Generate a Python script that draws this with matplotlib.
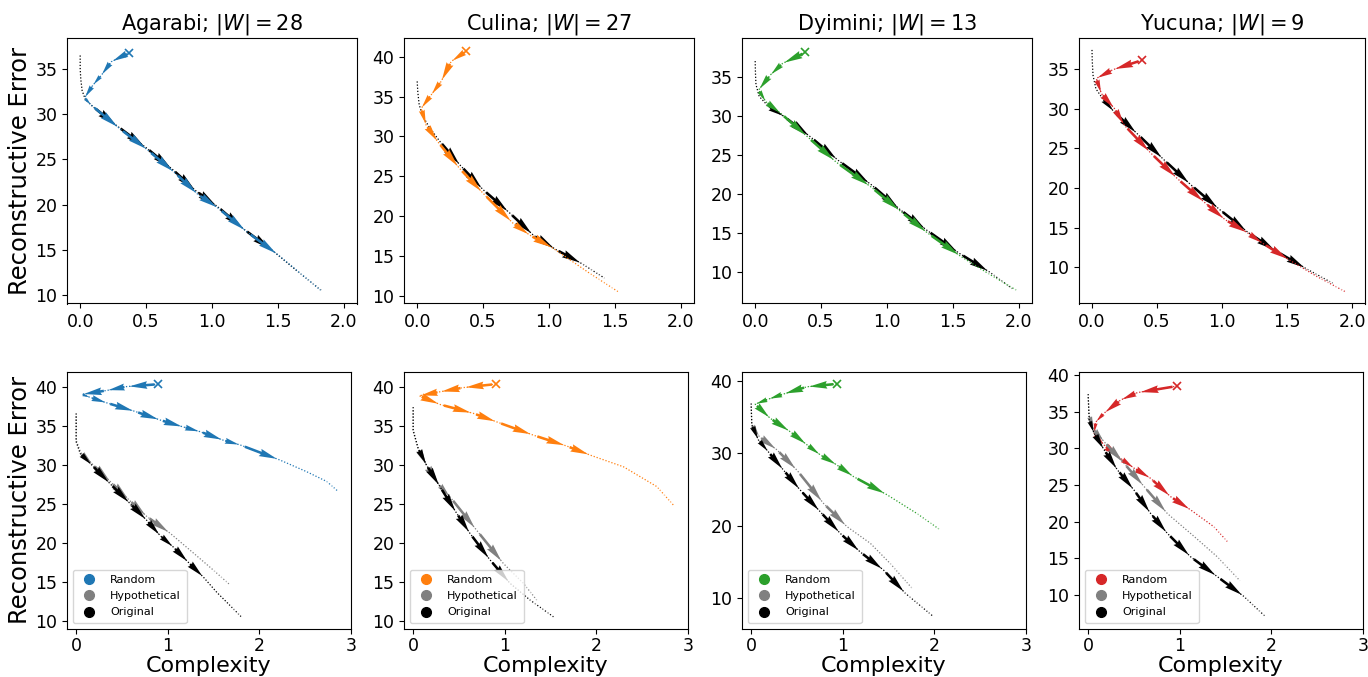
import numpy as np
import matplotlib
matplotlib.use("Agg")
import matplotlib.pyplot as plt
from matplotlib.lines import Line2D

# ---------------- data ----------------
languages = ["Agarabi", "Culina", "Dyimini", "Yucuna"]
lexicon_sizes = [28, 27, 13, 9]
colors = ["#1f77b4", "#ff7f0e", "#2ca02c", "#d62728"]
legend_labels = ["Random", "Hypothetical", "Original"]
top_xticks = [0.0, 0.5, 1.0, 1.5, 2.0]
bottom_xticks = [0, 1, 2, 3]

# top row: random (coloured) and original (black) trajectories
agarabi_top_rand_x = [0.37, 0.236, 0.16, 0.096, 0.033, 0.084, 0.30, 0.515, 0.72, 0.895, 1.048, 1.264, 1.505, 1.67, 1.835]
agarabi_top_rand_y = [36.8, 35.8, 34.3, 33.2, 31.8, 31.0, 28.4, 26.0, 23.5, 21.1, 19.6, 17.0, 14.4, 12.4, 10.4]
agarabi_top_orig_x = [0.0, 0.0, 0.005, 0.015, 0.04, 0.10, 0.28, 0.50, 0.70, 0.88, 1.04, 1.24, 1.46, 1.65, 1.83]
agarabi_top_orig_y = [36.5, 35.0, 33.8, 32.6, 31.6, 30.8, 28.7, 26.3, 23.9, 21.5, 19.8, 17.3, 14.9, 12.6, 10.5]

culina_top_rand_x = [0.372, 0.258, 0.182, 0.106, 0.03, 0.068, 0.157, 0.32, 0.50, 0.726, 0.853, 1.03, 1.308, 1.523]
culina_top_rand_y = [40.7, 39.4, 36.9, 35.2, 33.5, 31.4, 29.3, 26.0, 22.85, 19.1, 17.6, 15.95, 12.8, 10.5]
culina_top_orig_x = [0.0, 0.005, 0.015, 0.04, 0.09, 0.17, 0.33, 0.50, 0.70, 0.88, 1.05, 1.25, 1.42]
culina_top_orig_y = [36.9, 35.5, 34.0, 32.6, 31.2, 29.4, 26.3, 23.3, 20.4, 17.6, 15.8, 14.0, 12.2]

dyimini_top_rand_x = [0.38, 0.208, 0.114, 0.026, 0.081, 0.195, 0.398, 0.613, 0.879, 1.106, 1.309, 1.562, 1.765, 1.987]
dyimini_top_rand_y = [38.1, 36.7, 35.2, 33.3, 31.8, 30.3, 27.3, 24.1, 20.9, 17.75, 15.0, 12.0, 9.87, 7.65]
dyimini_top_orig_x = [0.0, 0.002, 0.006, 0.03, 0.10, 0.22, 0.42, 0.63, 0.88, 1.10, 1.30, 1.55, 1.78, 1.95]
dyimini_top_orig_y = [37.0, 35.5, 34.0, 32.5, 31.2, 29.9, 27.3, 24.3, 21.2, 18.0, 15.4, 12.4, 10.0, 7.9]

yucuna_top_rand_x = [0.384, 0.16, 0.033, 0.072, 0.173, 0.249, 0.452, 0.655, 0.871, 1.024, 1.20, 1.315, 1.519, 1.734, 1.95]
yucuna_top_rand_y = [36.1, 34.9, 33.8, 31.9, 30.0, 27.9, 24.4, 21.2, 18.1, 16.0, 14.3, 13.0, 10.9, 8.8, 6.9]
yucuna_top_orig_x = [0.0, 0.002, 0.008, 0.03, 0.08, 0.17, 0.35, 0.55, 0.76, 0.98, 1.20, 1.42, 1.65, 1.85]
yucuna_top_orig_y = [37.4, 36.0, 34.2, 32.5, 31.3, 29.6, 26.8, 23.6, 20.4, 17.3, 14.4, 12.0, 9.8, 8.0]

# bottom row: random, hypothetical (grey) and original (black)
agarabi_bot_rand_x = [0.897, 0.553, 0.335, 0.062, 0.153, 0.335, 0.644, 0.916, 1.171, 1.353, 1.607, 1.789, 2.225, 2.517, 2.735, 2.862]
agarabi_bot_rand_y = [40.4, 40.1, 39.6, 39.1, 38.7, 38.0, 36.9, 35.8, 34.9, 34.3, 33.2, 32.6, 30.65, 29.15, 27.9, 26.6]
agarabi_bot_hyp_x = [0.0, 0.0, 0.05, 0.18, 0.38, 0.58, 0.771, 1.025, 1.28, 1.498, 1.68]
agarabi_bot_hyp_y = [36.3, 33.2, 31.6, 30.1, 27.8, 25.5, 23.4, 21.25, 18.7, 16.5, 14.6]
agarabi_bot_orig_x = [0.0, 0.0, 0.044, 0.171, 0.371, 0.589, 0.771, 0.916, 1.062, 1.225, 1.389, 1.535, 1.68, 1.807]
agarabi_bot_orig_y = [36.65, 33.0, 31.5, 30.0, 27.6, 25.05, 22.9, 20.95, 19.45, 17.5, 15.6, 13.65, 11.95, 10.45]

culina_bot_rand_x = [0.904, 0.547, 0.292, 0.066, 0.292, 0.656, 0.912, 1.312, 1.677, 1.932, 2.296, 2.66, 2.843]
culina_bot_rand_y = [40.35, 39.9, 39.36, 38.85, 37.74, 36.6, 35.5, 33.8, 32.4, 31.24, 29.74, 27.2, 24.8]
culina_bot_hyp_x = [0.0, 0.0, 0.055, 0.146, 0.28, 0.401, 0.693, 0.984, 1.203, 1.349]
culina_bot_hyp_y = [37.0, 34.3, 32.0, 29.9, 27.5, 25.9, 21.6, 17.35, 14.8, 12.65]
culina_bot_orig_x = [0.0, 0.0, 0.055, 0.146, 0.292, 0.474, 0.62, 0.839, 1.057, 1.276, 1.531]
culina_bot_orig_y = [37.4, 34.45, 32.1, 29.96, 27.2, 23.8, 21.2, 17.8, 14.8, 12.65, 10.5]

dyimini_bot_rand_x = [0.936, 0.608, 0.353, 0.189, 0.044, 0.208, 0.426, 0.608, 0.754, 0.936, 1.117, 1.482, 1.81, 2.057]
dyimini_bot_rand_y = [39.6, 39.2, 38.2, 37.5, 36.8, 34.85, 33.0, 31.2, 29.8, 28.4, 26.8, 24.3, 21.7, 19.5]
dyimini_bot_hyp_x = [0.0, 0.007, 0.09, 0.281, 0.499, 0.79, 1.045, 1.30, 1.518, 1.755]
dyimini_bot_hyp_y = [36.5, 34.0, 32.3, 30.5, 27.7, 23.1, 19.9, 17.6, 14.8, 11.4]
dyimini_bot_orig_x = [0.0, 0.007, 0.08, 0.189, 0.353, 0.535, 0.754, 0.972, 1.19, 1.445, 1.682, 1.991]
dyimini_bot_orig_y = [36.9, 33.9, 31.85, 30.2, 27.7, 24.95, 21.95, 18.97, 16.4, 13.9, 10.7, 7.46]

yucuna_bot_rand_x = [0.974, 0.538, 0.356, 0.174, 0.084, 0.065, 0.174, 0.356, 0.501, 0.683, 0.901, 1.119, 1.373, 1.518]
yucuna_bot_rand_y = [38.5, 37.6, 36.6, 34.8, 33.6, 32.05, 30.45, 28.6, 27.3, 25.9, 23.4, 21.6, 19.3, 17.3]
yucuna_bot_hyp_x = [0.0, 0.01, 0.06, 0.174, 0.392, 0.61, 0.865, 1.155, 1.41, 1.656]
yucuna_bot_hyp_y = [37.0, 34.5, 32.6, 30.9, 27.95, 24.8, 21.1, 18.0, 15.2, 11.95]
yucuna_bot_orig_x = [0.0, 0.011, 0.065, 0.174, 0.32, 0.501, 0.683, 0.865, 1.119, 1.41, 1.70, 1.936]
yucuna_bot_orig_y = [37.4, 33.9, 32.05, 29.8, 27.05, 24.3, 21.1, 18.4, 15.2, 12.5, 9.8, 7.04]

# ---------------- layout / style ----------------
W, H = 1368, 677
fig = plt.figure(figsize=(W / 100, H / 100), dpi=100)

lefts = [67, 404, 742, 1079]
top_widths = [290, 290, 290, 286]
bot_width = 284
top_y0, top_y1 = 38, 303.5
bot_y0, bot_y1 = 372, 628.5

top_ylims = [(9.06, 38.43), (9.0, 42.35), (6.0, 39.95), (5.43, 38.9)]
bot_ylims = [(9.0, 41.97), (9.0, 41.9), (5.83, 41.24), (5.43, 40.41)]

# arrow segment ranges (first, last) per trajectory
top_arrows = [((0, 11), (5, 11)), ((0, 10), (5, 10)), ((0, 10), (4, 11)), ((0, 11), (4, 11))]
bot_arrows = [((0, 11), (2, 6), (2, 9)), ((0, 8), (2, 6), (2, 7)),
              ((0, 10), (1, 5), (1, 9)), ((0, 10), (1, 5), (1, 9))]

top_data = [
    (agarabi_top_rand_x, agarabi_top_rand_y, agarabi_top_orig_x, agarabi_top_orig_y),
    (culina_top_rand_x, culina_top_rand_y, culina_top_orig_x, culina_top_orig_y),
    (dyimini_top_rand_x, dyimini_top_rand_y, dyimini_top_orig_x, dyimini_top_orig_y),
    (yucuna_top_rand_x, yucuna_top_rand_y, yucuna_top_orig_x, yucuna_top_orig_y),
]
bot_data = [
    (agarabi_bot_rand_x, agarabi_bot_rand_y, agarabi_bot_hyp_x, agarabi_bot_hyp_y, agarabi_bot_orig_x, agarabi_bot_orig_y),
    (culina_bot_rand_x, culina_bot_rand_y, culina_bot_hyp_x, culina_bot_hyp_y, culina_bot_orig_x, culina_bot_orig_y),
    (dyimini_bot_rand_x, dyimini_bot_rand_y, dyimini_bot_hyp_x, dyimini_bot_hyp_y, dyimini_bot_orig_x, dyimini_bot_orig_y),
    (yucuna_bot_rand_x, yucuna_bot_rand_y, yucuna_bot_hyp_x, yucuna_bot_hyp_y, yucuna_bot_orig_x, yucuna_bot_orig_y),
]

GREY = "#808080"


def draw_traj(ax, xs, ys, color, arrows, z, start_x=False):
    xs = np.asarray(xs, float)
    ys = np.asarray(ys, float)
    ax.plot(xs, ys, ls=(0, (1, 1.5)), lw=0.9, color=color, zorder=z)
    ax.plot(xs[-2:], ys[-2:], ls=":", lw=1.4, color="white", alpha=0.55, zorder=z + 0.01)
    a0, a1 = arrows
    idx = np.arange(a0, min(a1, len(xs) - 2) + 1)
    dx = xs[idx + 1] - xs[idx]
    dy = ys[idx + 1] - ys[idx]
    ax.quiver(xs[idx] + 0.12 * dx, ys[idx] + 0.12 * dy, 0.8 * dx, 0.8 * dy,
              angles="xy", scale_units="xy", scale=1, color=color,
              width=0.009, headwidth=3.0, headlength=7, headaxislength=6.5,
              zorder=z + 0.1)
    if start_x:
        ax.plot(xs[0], ys[0], marker="x", ms=6, mew=1.2, color=color, ls="none", zorder=z + 0.2)


def fpos(x0, x1, y0, y1):
    return [x0 / W, 1 - y1 / H, (x1 - x0) / W, (y1 - y0) / H]


for i in range(4):
    ax = fig.add_axes(fpos(lefts[i], lefts[i] + top_widths[i], top_y0, top_y1))
    rx, ry, ox, oy = top_data[i]
    draw_traj(ax, ox, oy, "black", top_arrows[i][1], 2)
    draw_traj(ax, rx, ry, colors[i], top_arrows[i][0], 3, start_x=True)
    ax.set_xlim(-0.1, 2.1)
    ax.set_ylim(*top_ylims[i])
    ax.set_xticks(top_xticks)
    ax.tick_params(labelsize=12.5)
    ax.set_title(f"{languages[i]}; $|W| = {lexicon_sizes[i]}$", fontsize=15)
    if i == 0:
        ax.set_ylabel("Reconstructive Error", fontsize=17.5, labelpad=2)

    ax = fig.add_axes(fpos(lefts[i], lefts[i] + bot_width, bot_y0, bot_y1))
    rx, ry, hx, hy, ox, oy = bot_data[i]
    draw_traj(ax, rx, ry, colors[i], bot_arrows[i][0], 2, start_x=True)
    draw_traj(ax, hx, hy, GREY, bot_arrows[i][1], 3)
    draw_traj(ax, ox, oy, "black", bot_arrows[i][2], 4)
    ax.set_xlim(-0.1, 3.0)
    ax.set_ylim(*bot_ylims[i])
    ax.set_xticks(bottom_xticks)
    ax.tick_params(labelsize=12.5)
    ax.tick_params(axis="x", pad=2.5)
    ax.set_xlabel("Complexity", fontsize=16, labelpad=0.5)
    if i == 0:
        ax.set_ylabel("Reconstructive Error", fontsize=17.5, labelpad=2)
    handles = [Line2D([], [], marker="o", ls="none", ms=7, color=c)
               for c in (colors[i], GREY, "black")]
    ax.legend(handles, legend_labels, loc="lower left", fontsize=8,
              handletextpad=0.9, borderpad=0.5, labelspacing=0.55)

fig.savefig("out.png", dpi=100)
